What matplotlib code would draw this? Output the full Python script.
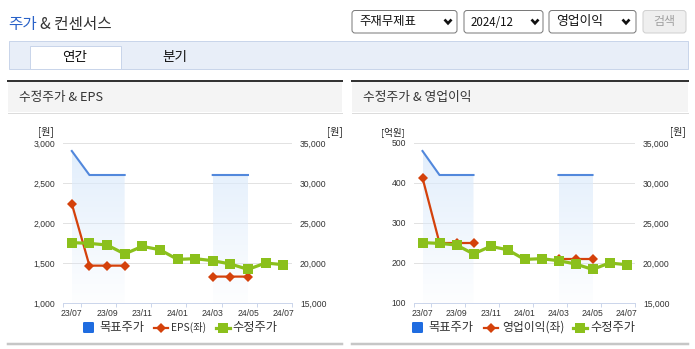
import numpy as np
import matplotlib
matplotlib.use("Agg")
import matplotlib.pyplot as plt
from matplotlib import font_manager
from matplotlib.patches import Rectangle, FancyBboxPatch, Polygon
from matplotlib.lines import Line2D

# ---------------- data ----------------
months = ["23/07", "23/08", "23/09", "23/10", "23/11", "23/12", "24/01",
          "24/02", "24/03", "24/04", "24/05", "24/06", "24/07"]
tick_labels = ["23/07", "23/09", "23/11", "24/01", "24/03", "24/05", "24/07"]
nan = np.nan
target_price = [34000, 31000, 31000, 31000, nan, nan, nan, nan,
                31000, 31000, 31000, nan, nan]
eps = [2240, 1467, 1467, 1467, nan, nan, nan, nan,
       1330, 1330, 1330, nan, nan]
op_income = [413, 250, 250, 250, nan, nan, nan, nan,
             210, 210, 210, nan, nan]
adj_price = [22550, 22450, 22250, 21130, 22080, 21660, 20450,
             20540, 20290, 19880, 19200, 20000, 19790]

eps_ticks = [1000, 1500, 2000, 2500, 3000]
op_ticks = [100, 200, 300, 400, 500]
price_ticks = [15000, 20000, 25000, 30000, 35000]

# ---------------- style ----------------
W, H = 695, 349
PX = 0.72  # one pixel in points at 100 dpi
KR = ["Noto Sans CJK KR", "DejaVu Sans"]


def available(name):
    try:
        font_manager.findfont(font_manager.FontProperties(family=name),
                              fallback_to_default=False)
        return True
    except Exception:
        return False


if available("Liberation Sans Narrow"):
    NUM_FONT, NUM_SIZE = ["Liberation Sans Narrow", "DejaVu Sans"], 7.4
elif available("DejaVu Sans Condensed"):
    NUM_FONT, NUM_SIZE = ["DejaVu Sans Condensed", "DejaVu Sans"], 6.2
else:
    NUM_FONT, NUM_SIZE = ["Liberation Sans", "DejaVu Sans"], 6.2

BLUE_LINE = "#5288dc"
BLUE_KEY = "#1f6ce0"
RED = "#d4410b"
GREEN = "#8bc01c"
AXIS = "#ccd6eb"
GRID = "#e2e2e2"
TEXT = "#333333"

fig = plt.figure(figsize=(W / 100, H / 100), dpi=100)
fig.patch.set_facecolor("white")
renderer = fig.canvas.get_renderer()

# page-level layer in pixel coordinates
ov = fig.add_axes([0, 0, 1, 1], label="page")
ov.set_xlim(0, W)
ov.set_ylim(H, 0)
ov.axis("off")
ov.set_zorder(0)


def text_width(s, size):
    t = ov.text(0, 0, s, fontsize=size, family=KR)
    w = t.get_window_extent(renderer).width
    t.remove()
    return w


def label(x, y, s, width, ha="left", **kw):
    """Place a Korean label and size it so it spans `width` pixels."""
    size = 10 * width / text_width(s, 10)
    return ov.text(x, y, s, fontsize=size, family=KR, ha=ha, va="center", **kw)


# title: blue "주가" followed by the rest, both at one size
title_full = "주가 & 컨센서스"
title_rest = "& 컨센서스"
title_size = 10 * 104 / text_width(title_full, 10)
rest_x = 8 + text_width(title_full, title_size) - text_width(title_rest, title_size)
ov.text(8, 24.5, "주가", fontsize=title_size, family=KR, color="#2a62c8",
        va="center")
ov.text(rest_x, 24.5, title_rest, fontsize=title_size, family=KR, color=TEXT,
        va="center")


def chevron(cx, cy):
    ov.plot([cx - 3.5, cx, cx + 3.5], [cy - 2, cy + 1.8, cy - 2],
            color="#111111", lw=1.9, solid_capstyle="butt", solid_joinstyle="miter")


def select_box(x0, x1, text, text_w, chev_x):
    ov.add_patch(FancyBboxPatch((x0, 10.5), x1 - x0, 22.5,
                                boxstyle="round,pad=0,rounding_size=3",
                                facecolor="white", edgecolor="#7a7a7a", lw=PX))
    label(x0 + 7, 22, text, text_w, color="#111111")
    chevron(chev_x, 21.5)


select_box(352, 457, "주재무제표", 57, 448)
select_box(464, 543, "2024/12", 43, 535)
select_box(549, 636, "영업이익", 47, 626)
ov.add_patch(FancyBboxPatch((643, 10.5), 43, 22.5,
                            boxstyle="round,pad=0,rounding_size=3",
                            facecolor="#efefef", edgecolor="#d0d0d0", lw=PX))
label(664.5, 22, "검색", 22, ha="center", color="#a0a0a0")

# tab bar
ov.add_patch(Rectangle((9, 40.5), 679, 28, facecolor="#e8eef8",
                       edgecolor="#c9d5ea", lw=PX))
ov.add_patch(Rectangle((29.5, 45.5), 91, 23, facecolor="white",
                       edgecolor="#c9d5ea", lw=PX))
label(75, 57.5, "연간", 25, ha="center", color="#111111")
label(175, 57.5, "분기", 25, ha="center", color="#111111")


def panel(x0, x1, title, title_w):
    ov.add_patch(Rectangle((x0, 82), x1 - x0, 30, facecolor="#f4f4f4",
                           edgecolor="none"))
    ov.plot([x0, x1], [81, 81], color="#333333", lw=2 * PX)
    ov.plot([x0, x1], [112.5, 112.5], color="#dcdcdc", lw=PX)
    ov.plot([x0, x1], [344, 344], color="#c6c6c6", lw=2.5 * PX)
    label(x0 + 11, 97, title, title_w, color=TEXT)


panel(8, 342, "수정주가 & EPS", 84)
panel(352, 688, "수정주가 & 영업이익", 108)

PLOT_TOP, PLOT_BOTTOM = 143, 303


def gradient_area(ax, xs, ys, y_bottom, y_top):
    # area under the target-price line, fading toward the bottom
    xs = np.asarray(xs, float)
    ys = np.asarray(ys, float)
    idx = np.where(~np.isnan(ys))[0]
    runs = np.split(idx, np.where(np.diff(idx) != 1)[0] + 1)
    n = 256
    img = np.zeros((n, 1, 4))
    img[..., 0] = 0.86
    img[..., 1] = 0.92
    img[..., 2] = 0.985
    img[..., 3] = np.linspace(0.85, 0.05, n)[:, None]
    for run in runs:
        if len(run) < 2:
            continue
        px, py = xs[run], ys[run]
        verts = list(zip(px, py)) + [(px[-1], y_bottom), (px[0], y_bottom)]
        poly = Polygon(verts, closed=True, transform=ax.transData,
                       facecolor="none", edgecolor="none")
        ax.add_patch(poly)
        im = ax.imshow(img, extent=[px[0], px[-1], y_bottom, y_top],
                       aspect="auto", origin="upper", zorder=1,
                       interpolation="bilinear")
        im.set_clip_path(poly)


def chart(x0, x1, left_vals, left_ticks, left_unit, unit_w, series_name):
    rect = [x0 / W, (H - PLOT_BOTTOM) / H, (x1 - x0) / W,
            (PLOT_BOTTOM - PLOT_TOP) / H]
    x = np.arange(len(months))

    back = fig.add_axes(rect, label=series_name + "_back")
    mid = fig.add_axes(rect, label=series_name + "_mid", sharex=back)
    front = fig.add_axes(rect, label=series_name + "_front", sharex=back)
    back.set_zorder(2)
    mid.set_zorder(3)
    front.set_zorder(4)
    for a in (back, mid, front):
        a.patch.set_visible(False)
        for s in a.spines.values():
            s.set_visible(False)

    # right scale: target price area/line, grid, x axis
    back.set_ylim(price_ticks[0], price_ticks[-1])
    for v in price_ticks[1:]:
        back.axhline(v, color=GRID, lw=PX, zorder=0)
    gradient_area(back, x, target_price, price_ticks[0], price_ticks[-1])
    back.set_xlim(-0.5, len(months) - 0.5)
    back.set_ylim(price_ticks[0], price_ticks[-1])
    back.plot(x, target_price, color=BLUE_LINE, lw=1.5, zorder=3)
    back.spines["bottom"].set_visible(True)
    back.spines["bottom"].set_color(AXIS)
    back.spines["bottom"].set_linewidth(PX)
    back.yaxis.tick_right()
    back.set_yticks(price_ticks)
    back.set_yticklabels([f"{v:,}" for v in price_ticks])
    back.tick_params(axis="y", length=0, pad=5.8, labelsize=NUM_SIZE,
                     labelcolor=TEXT)
    tick_pos = [months.index(t) for t in tick_labels]
    back.set_xticks(tick_pos)
    back.set_xticklabels(tick_labels)
    back.set_xticks([-0.5] + [p + 0.5 for p in tick_pos], minor=True)
    back.tick_params(axis="x", which="major", length=0, pad=4.2,
                     labelsize=NUM_SIZE, labelcolor=TEXT)
    back.tick_params(axis="x", which="minor", length=2.9, width=PX,
                     color=AXIS, direction="out")
    for lab in back.get_xticklabels() + back.get_yticklabels():
        lab.set_family(NUM_FONT)

    # left scale: EPS / operating income
    mid.set_ylim(left_ticks[0], left_ticks[-1])
    mid.plot(x, left_vals, color=RED, lw=1.6, marker="D", markersize=5,
             markeredgewidth=0, zorder=3)
    mid.set_yticks(left_ticks)
    mid.set_yticklabels([f"{v:,}" for v in left_ticks])
    mid.tick_params(axis="y", length=0, pad=5.8, labelsize=NUM_SIZE,
                    labelcolor=TEXT)
    mid.tick_params(axis="x", which="both", length=0, labelbottom=False)
    for lab in mid.get_yticklabels():
        lab.set_family(NUM_FONT)

    # right scale: adjusted price on top
    front.set_ylim(price_ticks[0], price_ticks[-1])
    front.plot(x, adj_price, color=GREEN, lw=2.3, marker="s", markersize=6.5,
               markeredgewidth=0, zorder=3)
    front.set_yticks([])
    front.tick_params(axis="x", which="both", length=0, labelbottom=False)

    # axis units
    label(x0 - 9, 132, left_unit, unit_w, ha="right", color="#222222")
    label(x1 + 35, 132, "[원]", 16, ha="left", color="#222222")


def legend(key_x, red_x, green_x, red_label, red_w):
    y = 327.5
    ov.add_patch(FancyBboxPatch((key_x, y - 5.5), 11, 11,
                                boxstyle="round,pad=0,rounding_size=1.2",
                                facecolor=BLUE_KEY, edgecolor="none"))
    label(key_x + 16, y, "목표주가", 45, color=TEXT)
    ov.add_line(Line2D([red_x - 7, red_x + 7], [y, y], color=RED, lw=1.6))
    ov.add_line(Line2D([red_x], [y], color=RED, marker="D", markersize=5,
                       markeredgewidth=0))
    label(red_x + 11, y, red_label, red_w, color=TEXT)
    ov.add_line(Line2D([green_x - 7, green_x + 7], [y, y], color=GREEN, lw=2.3))
    ov.add_line(Line2D([green_x], [y], color=GREEN, marker="s", markersize=6.5,
                       markeredgewidth=0))
    label(green_x + 10, y, "수정주가", 45, color=TEXT)


chart(63, 292, eps, eps_ticks, "[원]", 16, "eps")
legend(83, 160.5, 222.5, "EPS(좌)", 35)
chart(414, 635, op_income, op_ticks, "[억원]", 24, "op")
legend(412, 491, 580, "영업이익(좌)", 62)

fig.savefig("out.png", dpi=100, facecolor="white")
